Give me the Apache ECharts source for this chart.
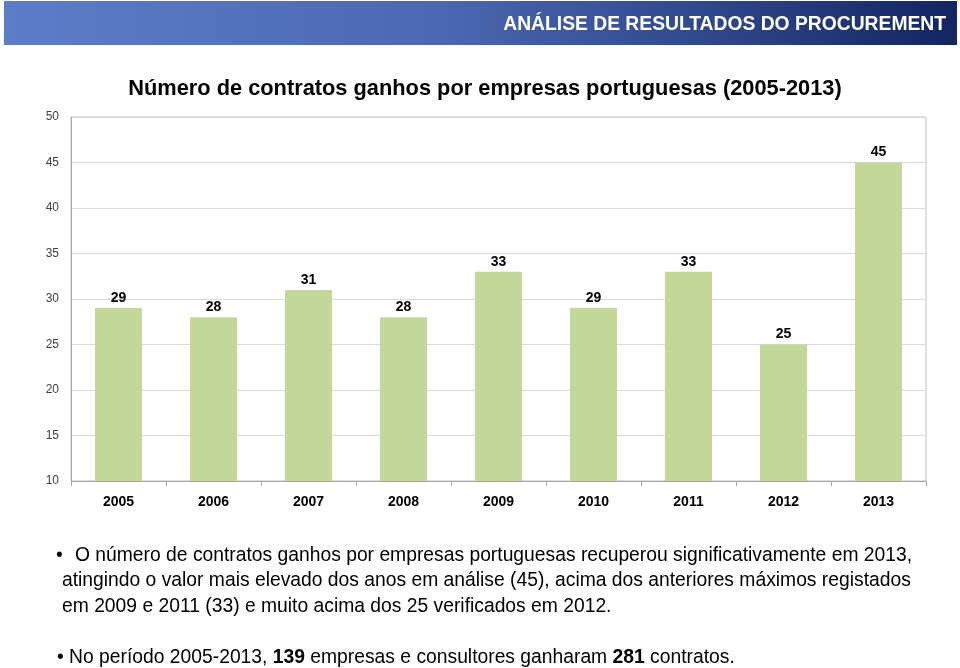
<!DOCTYPE html>
<html>
<head>
<meta charset="utf-8">
<script src="https://cdn.jsdelivr.net/npm/echarts@6/dist/echarts.min.js"></script>
<style>
html,body{margin:0;padding:0;background:#fff;}
#chart{width:960px;height:668px;}
</style>
</head>
<body>
<div id="chart"></div>
<script>
var categories = ['2005','2006','2007','2008','2009','2010','2011','2012','2013'];
var contracts = [29, 28, 31, 28, 33, 29, 33, 25, 45];
var yTicks = {min: 10, max: 50, interval: 5};
var headerText = 'ANÁLISE DE RESULTADOS DO PROCUREMENT';
var chartTitle = 'Número de contratos ganhos por empresas portuguesas (2005-2013)';
var bulletLines = [
  'O número de contratos ganhos por empresas portuguesas recuperou significativamente em 2013,',
  'atingindo o valor mais elevado dos anos em análise (45), acima dos anteriores máximos registados',
  'em 2009 e 2011 (33) e muito acima dos 25 verificados em 2012.'
];

var FONT = '"Liberation Sans", Arial, sans-serif';
var BODY = '19.3px ' + FONT;
var chart = echarts.init(document.getElementById('chart'), null, {renderer: 'canvas'});

var option = {
  backgroundColor: '#ffffff',
  animation: false,
  title: {
    text: chartTitle,
    left: 480,
    textAlign: 'center',
    top: 73,
    textStyle: {fontFamily: FONT, fontSize: 21.8, fontWeight: 'bold', color: '#000000'}
  },
  grid: {
    left: 71, right: 34, top: 117, bottom: 187,
    show: true, borderColor: '#BFBFBF', borderWidth: 1, backgroundColor: 'transparent'
  },
  xAxis: {
    type: 'category',
    data: categories,
    axisLine: {lineStyle: {color: '#A6A6A6', width: 1}},
    axisTick: {show: true, length: 5, lineStyle: {color: '#A6A6A6'}},
    axisLabel: {fontFamily: FONT, fontSize: 14, fontWeight: 'bold', color: '#000000', margin: 14}
  },
  yAxis: {
    type: 'value',
    min: yTicks.min, max: yTicks.max, interval: yTicks.interval,
    axisLine: {show: true, lineStyle: {color: '#A6A6A6'}},
    axisTick: {show: false},
    splitLine: {lineStyle: {color: '#D9D9D9', width: 1}},
    axisLabel: {fontFamily: FONT, fontSize: 12, color: '#404040', margin: 12}
  },
  series: [{
    type: 'bar',
    data: contracts,
    barWidth: '49.5%',
    itemStyle: {color: '#C4D79B'},
    label: {
      show: true, position: 'top', distance: 3,
      fontFamily: FONT, fontSize: 14, fontWeight: 'bold', color: '#000000'
    }
  }],
  graphic: [
    {
      type: 'rect', z: -1,
      shape: {x: 4, y: 1, width: 953, height: 44},
      style: {
        fill: new echarts.graphic.LinearGradient(0, 0, 1, 0, [
          {offset: 0, color: '#5C7DC8'},
          {offset: 0.45, color: '#4D68B2'},
          {offset: 0.75, color: '#2E4689'},
          {offset: 1, color: '#132560'}
        ])
      }
    },
    {
      type: 'text', right: 14, top: 15,
      style: {text: headerText, fill: '#ffffff', font: 'bold 19.3px ' + FONT}
    },
    {
      type: 'text', left: 56, top: 546,
      style: {text: '•', fill: '#000000', font: BODY}
    },
    {
      type: 'text', left: 75, top: 546,
      style: {text: bulletLines[0], fill: '#000000', font: BODY}
    },
    {
      type: 'text', left: 62, top: 571,
      style: {text: bulletLines[1], fill: '#000000', font: BODY}
    },
    {
      type: 'text', left: 62, top: 597,
      style: {text: bulletLines[2], fill: '#000000', font: BODY}
    },
    {
      type: 'text', left: 57, top: 648,
      style: {
        text: '• No período 2005-2013, {b|139} empresas e consultores ganharam {b|281} contratos.',
        fill: '#000000', font: BODY,
        rich: {b: {fontFamily: FONT, fontSize: 19.3, fontWeight: 'bold', fill: '#000000'}}
      }
    }
  ]
};
chart.setOption(option);
</script>
</body>
</html>
